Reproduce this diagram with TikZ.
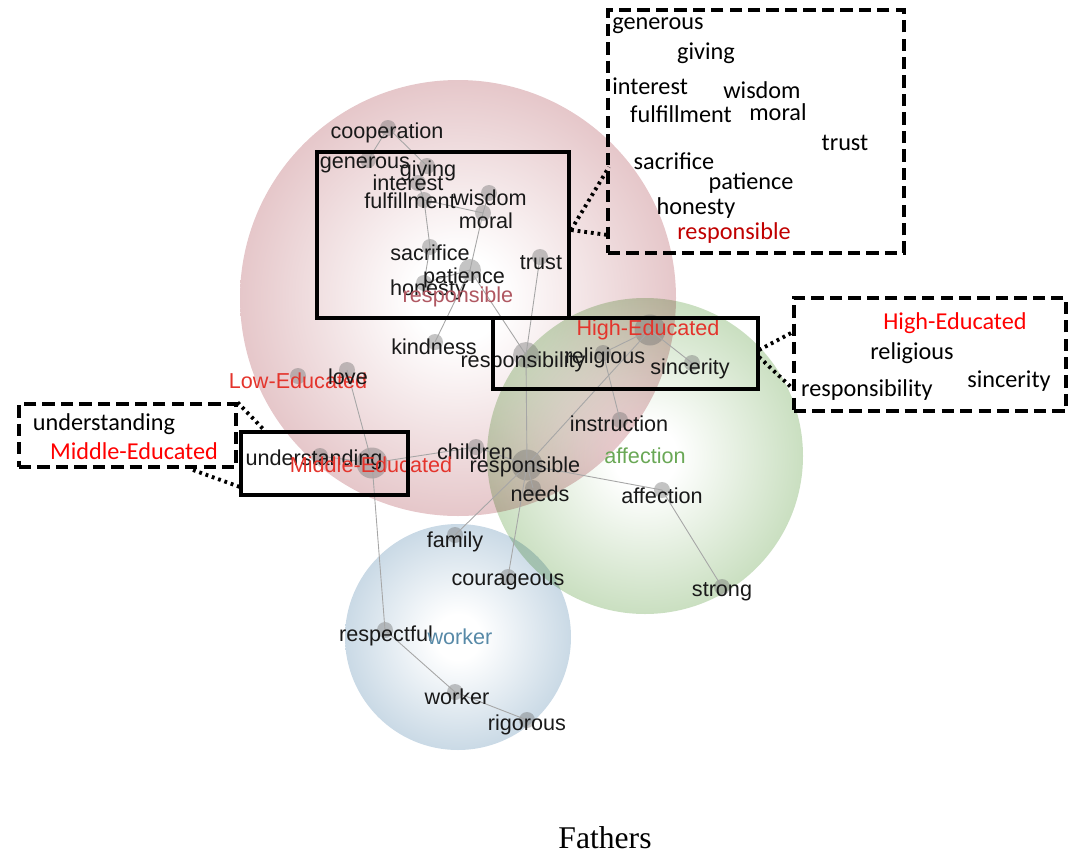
\documentclass[tikz,border=0pt]{standalone}
\usepackage{fontspec}
\setmainfont{Liberation Serif}
\newfontfamily\graphfont{Liberation Sans}
\newfontfamily\boxfont{Carlito}
\usetikzlibrary{positioning}

\definecolor{ballred}{RGB}{200,134,140}
\definecolor{ballgreen}{RGB}{140,186,120}
\definecolor{ballblue}{RGB}{140,174,200}
\definecolor{catred}{RGB}{228,52,44}
\definecolor{catrose}{RGB}{176,88,98}
\definecolor{catgreen}{RGB}{106,168,86}
\definecolor{catblue}{RGB}{88,138,168}
\definecolor{boxred}{RGB}{192,0,0}

\pgfdeclareradialshading{redball}{\pgfpoint{0bp}{0bp}}{color(0bp)=(white); color(5bp)=(white); color(30bp)=(white!42!ballred); color(50bp)=(ballred)}
\pgfdeclareradialshading{greenball}{\pgfpoint{0bp}{0bp}}{color(0bp)=(white); color(5bp)=(white); color(30bp)=(white!42!ballgreen); color(50bp)=(ballgreen)}
\pgfdeclareradialshading{blueball}{\pgfpoint{0bp}{0bp}}{color(0bp)=(white); color(5bp)=(white); color(30bp)=(white!42!ballblue); color(50bp)=(ballblue)}

\begin{document}
\begin{tikzpicture}[
x=0.02cm, y=-0.02cm,
graphdot/.style={circle, fill=black!55, opacity=0.42, inner sep=0pt, minimum size=0.32cm},
bigdot/.style={graphdot, minimum size=0.62cm},
word/.style={font=\graphfont\fontsize{12.3}{14}\selectfont, inner sep=0pt, text=black!90},
catword/.style={word, text=catred},
link/.style={draw=black!35, line width=0.5pt},
zoombox/.style={rectangle, draw=black, line width=2pt, inner sep=0pt},
calloutbox/.style={rectangle, draw=black, line width=1.8pt, dash pattern=on 7pt off 3.5pt, inner sep=0pt},
boxword/.style={font=\boxfont\fontsize{13.8}{16}\selectfont, inner sep=0pt},
zoomline/.style={line width=2.2pt, dash pattern=on 1.6pt off 2.2pt},
]
\useasboundingbox (0,0) rectangle (1079,866);

%Clusters
\shade[shading=redball, blend mode=multiply] (458,298) circle (218);
\shade[shading=greenball, blend mode=multiply] (645,456) circle (158);
\shade[shading=blueball, blend mode=multiply] (458,637) circle (113);

%Dots
\node[graphdot] (d-coop) at (388,128) {};
\node[graphdot] (d-gen)  at (368,160) {};
\node[graphdot] (d-giv)  at (427,166) {};
\node[graphdot] (d-int)  at (418,183) {};
\node[graphdot] (d-ful)  at (424,200) {};
\node[graphdot] (d-wis)  at (489,193) {};
\node[graphdot] (d-mor)  at (483,213) {};
\node[graphdot] (d-sac)  at (430,247) {};
\node[graphdot, minimum size=0.44cm] (d-pat) at (470,270) {};
\node[graphdot] (d-hon)  at (424,283) {};
\node[graphdot] (d-tru)  at (540,257) {};
\node[graphdot] (d-kin)  at (435,342) {};
\node[bigdot, minimum size=0.52cm] (d-rsy) at (526,355) {};
\node[graphdot] (d-rel)  at (603,353) {};
\node[bigdot]   (d-hig)  at (650,330) {};
\node[graphdot] (d-sin)  at (692,363) {};
\node[graphdot] (d-ins)  at (620,420) {};
\node[bigdot]   (d-res)  at (527,465) {};
\node[graphdot] (d-chi)  at (476,447) {};
\node[graphdot] (d-nee)  at (533,488) {};
\node[graphdot] (d-aff)  at (662,490) {};
\node[graphdot] (d-str)  at (722,587) {};
\node[graphdot] (d-low)  at (298,376) {};
\node[graphdot] (d-lov)  at (347,370) {};
\node[bigdot]   (d-mid)  at (372,463) {};
\node[graphdot] (d-und)  at (320,456) {};
\node[graphdot] (d-fam)  at (455,535) {};
\node[graphdot] (d-cou)  at (508,577) {};
\node[graphdot] (d-rsp)  at (385,630) {};
\node[graphdot] (d-wor)  at (455,692) {};
\node[graphdot] (d-rig)  at (527,720) {};

%Links
\draw[link] (d-coop.center) -- (d-gen.center);
\draw[link] (d-coop.center) -- (d-giv.center);
\draw[link] (d-giv.center) -- (d-int.center);
\draw[link] (d-int.center) -- (d-ful.center);
\draw[link] (d-ful.center) -- (d-mor.center);
\draw[link] (d-wis.center) -- (d-mor.center);
\draw[link] (d-ful.center) -- (d-sac.center);
\draw[link] (d-sac.center) -- (d-hon.center);
\draw[link] (d-mor.center) -- (d-pat.center);
\draw[link] (d-hon.center) -- (d-pat.center);
\draw[link] (d-pat.center) -- (d-kin.center);
\draw[link] (d-pat.center) -- (d-rsy.center);
\draw[link] (d-tru.center) -- (d-rsy.center);
\draw[link] (d-rsy.center) -- (d-res.center);
\draw[link] (d-hig.center) -- (d-rel.center);
\draw[link] (d-hig.center) -- (d-sin.center);
\draw[link] (d-hig.center) -- (d-res.center);
\draw[link] (d-rel.center) -- (d-ins.center);
\draw[link] (d-res.center) -- (d-chi.center);
\draw[link] (d-chi.center) -- (d-mid.center);
\draw[link] (d-res.center) -- (d-nee.center);
\draw[link] (d-res.center) -- (d-aff.center);
\draw[link] (d-aff.center) -- (d-str.center);
\draw[link] (d-res.center) -- (d-fam.center);
\draw[link] (d-res.center) -- (d-cou.center);
\draw[link] (d-lov.center) -- (d-mid.center);
\draw[link] (d-und.center) -- (d-mid.center);
\draw[link] (d-mid.center) -- (d-rsp.center);
\draw[link] (d-rsp.center) -- (d-wor.center);
\draw[link] (d-wor.center) -- (d-rig.center);

%Words
\node[word] (l-coop) at (387,133) {cooperation};
\node[word] (l-gen)  at (365,165) {generous};
\node[word] (l-giv)  at (428,171) {giving};
\node[word] (l-int)  at (408,183) {interest};
\node[word] (l-ful)  at (410,201) {fulfillment};
\node[word] (l-wis)  at (490,198) {wisdom};
\node[word] (l-mor)  at (486,221) {moral};
\node[word] (l-sac)  at (430,253) {sacrifice};
\node[word] (l-tru)  at (541,263) {trust};
\node[word] (l-pat)  at (464,278) {patience};
\node[word] (l-hon)  at (428,290) {honesty};
\node[word, text=catrose] (c-resp) at (458,297) {responsible};
\node[word] (l-kin)  at (434,347) {kindness};
\node[word] (l-rsy)  at (523,362) {responsibility};
\node[word] (l-rel)  at (605,358) {religious};
\node[catword] (c-high) at (648,330) {High-Educated};
\node[word] (l-sin)  at (690,369) {sincerity};
\node[catword] (c-low) at (298,381) {Low-Educated};
\node[word] (l-lov)  at (348,377) {love};
\node[word] (l-ins)  at (619,424) {instruction};
\node[word] (l-chi)  at (475,452) {children};
\node[word] (l-res)  at (525,467) {responsible};
\node[word, text=catgreen] (c-aff) at (645,456) {affection};
\node[word] (l-und)  at (314,460) {understanding};
\node[catword] (c-mid) at (371,465) {Middle-Educated};
\node[word] (l-nee)  at (540,494) {needs};
\node[word] (l-aff)  at (662,496) {affection};
\node[word] (l-fam)  at (455,542) {family};
\node[word] (l-cou)  at (508,582) {courageous};
\node[word] (l-str)  at (722,592) {strong};
\node[word] (l-rsp)  at (386,636) {respectful};
\node[word, text=catblue] (c-wor) at (460,637) {worker};
\node[word] (l-wor)  at (457,697) {worker};
\node[word] (l-rig)  at (527,725) {rigorous};

%Zoom boxes
\node[zoombox, minimum width=5.04cm, minimum height=3.32cm] (zoomTop)  at (443,235) {};
\node[zoombox, minimum width=5.30cm, minimum height=1.42cm] (zoomHigh) at (625.5,353.5) {};
\node[zoombox, minimum width=3.34cm, minimum height=1.26cm] (zoomMid)  at (324.5,463.5) {};

%Callouts
\node[calloutbox, minimum width=5.92cm, minimum height=4.86cm] (boxTop)  at (756,131.5) {};
\node[calloutbox, minimum width=5.44cm, minimum height=2.26cm] (boxHigh) at (930,354.5) {};
\node[calloutbox, minimum width=4.34cm, minimum height=1.26cm] (boxMid)  at (127.5,435.5) {};

\node[boxword, anchor=west] (b-gen) at (612,26) {generous};
\node[boxword] (b-giv) at (706,53) {giving};
\node[boxword, anchor=west] (b-int) at (612,86) {interest};
\node[boxword] (b-wis) at (762,90) {wisdom};
\node[boxword] (b-ful) at (681,114) {fulfillment};
\node[boxword] (b-mor) at (778,112) {moral};
\node[boxword] (b-tru) at (845,143) {trust};
\node[boxword] (b-sac) at (674,161) {sacrifice};
\node[boxword] (b-pat) at (751,183) {patience};
\node[boxword] (b-hon) at (696,208) {honesty};
\node[boxword, text=boxred] (b-resp) at (734,233) {responsible};

\node[boxword, text=red] (b-high) at (955,323) {High-Educated};
\node[boxword] (b-rel) at (912,353) {religious};
\node[boxword] (b-sin) at (1009,381) {sincerity};
\node[boxword] (b-rsy) at (867,390) {responsibility};

\node[boxword] (b-und) at (104,424) {understanding};
\node[boxword, text=red] (b-mid) at (134,451) {Middle-Educated};

%Dotted lines
\coordinate (t-a) at (571,230);
\coordinate (t-b) at (609,167);
\coordinate (t-c) at (608,235);
\coordinate (h-a) at (759,350);
\coordinate (h-b) at (793,332);
\coordinate (h-c) at (759,357);
\coordinate (h-d) at (792,388);
\coordinate (m-a) at (266,432);
\coordinate (m-b) at (193,470);
\coordinate (m-c) at (240,487);
\draw[zoomline] (t-a) -- (t-b);
\draw[zoomline] (t-a) -- (t-c);
\draw[zoomline] (h-a) -- (h-b);
\draw[zoomline] (h-c) -- (h-d);
\draw[zoomline] (boxMid.north east) -- (m-a);
\draw[zoomline] (m-b) -- (m-c);

\node[font=\fontsize{18}{20}\selectfont, inner sep=0pt] (caption) at (605,838) {Fathers};

\end{tikzpicture}
\end{document}
